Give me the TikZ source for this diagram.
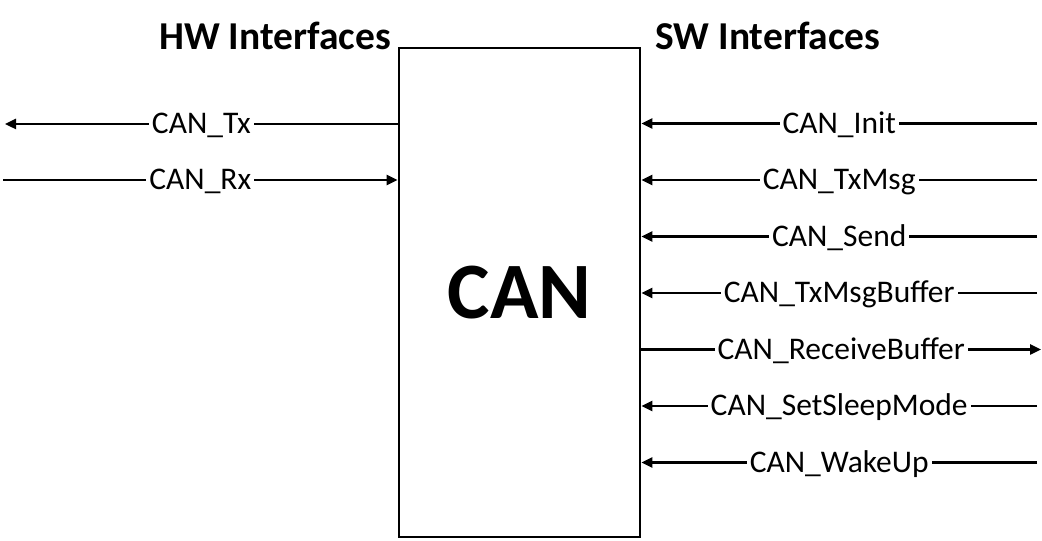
\documentclass[tikz,border=0pt]{standalone}
\usepackage{fontspec}
\setmainfont{Carlito}
\usetikzlibrary{arrows.meta}
\begin{document}
\begin{tikzpicture}[x=1pt,y=1pt,
  conn/.style={line width=2.4pt},
  arr/.style={conn,-{Triangle[length=11pt,width=10pt]}},
  lbl/.style={fill=white,inner xsep=3pt,inner ysep=1pt,anchor=base,yshift=-10pt,font=\fontsize{31.5}{31.5}\selectfont},
  title/.style={anchor=base,font=\fontsize{39.5}{39.5}\selectfont\bfseries,inner sep=0pt},
  block/.style={draw,line width=2.8pt,minimum width=241pt,minimum height=489pt,inner sep=0pt,font=\fontsize{80}{80}\selectfont\bfseries}]
\useasboundingbox (0,0) rectangle (1042,541);
\node[block] (can) at (519.5,248.5) {CAN};
\node[title] (hw) at (275,491) {HW Interfaces};
\node[title] (sw) at (768,491) {SW Interfaces};
% HW side
\coordinate (tx) at (5,417);
\coordinate (rx) at (3,361);
\draw[arr] (can.west |- tx) -- node[lbl]{CAN\_Tx} (tx);
\draw[arr] (rx) -- node[lbl]{CAN\_Rx} (can.west |- rx);
% SW side
\coordinate (init) at (1037,417.5);
\coordinate (txmsg) at (1037,361);
\coordinate (send) at (1037,304.5);
\coordinate (txbuf) at (1037,248);
\coordinate (rxbuf) at (1041,191.5);
\coordinate (sleep) at (1037,135);
\coordinate (wake) at (1037,78.5);
\draw[arr] (init) -- node[lbl]{CAN\_Init} (can.east |- init);
\draw[arr] (txmsg) -- node[lbl]{CAN\_TxMsg} (can.east |- txmsg);
\draw[arr] (send) -- node[lbl]{CAN\_Send} (can.east |- send);
\draw[arr] (txbuf) -- node[lbl]{CAN\_TxMsgBuffer} (can.east |- txbuf);
\draw[arr] (can.east |- rxbuf) -- node[lbl]{CAN\_ReceiveBuffer} (rxbuf);
\draw[arr] (sleep) -- node[lbl]{CAN\_SetSleepMode} (can.east |- sleep);
\draw[arr] (wake) -- node[lbl]{CAN\_WakeUp} (can.east |- wake);
\end{tikzpicture}
\end{document}
